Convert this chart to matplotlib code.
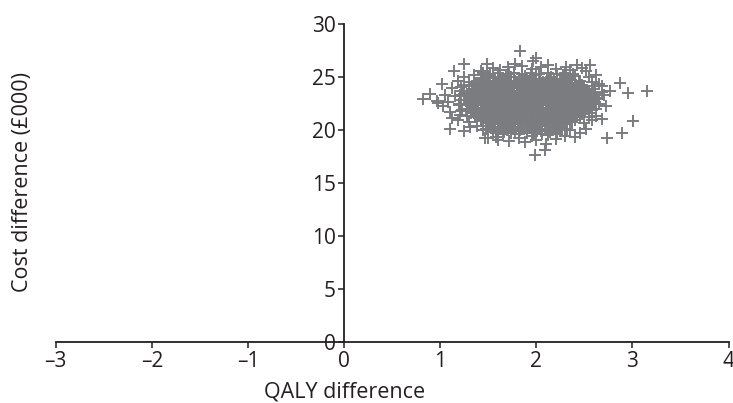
import matplotlib
matplotlib.use("Agg")
import matplotlib.pyplot as plt

plt.rcParams['font.family'] = ['Open Sans', 'DejaVu Sans']

# ---- data (QALY difference, cost difference £000) ----
outlier_points = [
    (1.83, 27.4), (1.97, 26.5), (2.00, 26.8), (1.25, 26.2), (1.14, 25.5),
    (1.49, 26.2), (1.42, 25.5), (1.02, 24.3), (0.89, 23.4), (0.82, 22.9),
    (0.97, 22.7), (1.03, 22.2), (1.12, 21.1), (1.10, 20.1), (1.31, 20.3),
    (1.47, 19.2), (1.99, 17.6), (2.09, 18.1), (2.73, 19.2), (2.89, 19.7),
    (3.01, 20.8), (3.15, 23.7), (2.95, 23.5), (2.87, 24.4), (2.77, 23.7),
    (2.68, 24.1), (2.56, 26.1), (2.42, 26.1), (2.31, 25.9),
]

fringe_points = [
    (1.55, 25.8), (1.70, 25.9), (1.85, 26.0), (2.05, 25.9), (2.20, 25.7),
    (1.62, 25.6), (1.95, 25.7), (2.35, 25.6), (2.48, 25.8), (1.78, 26.2),
    (2.12, 26.1), (1.45, 25.4), (2.52, 25.5),
    (1.25, 25.0), (1.35, 25.2), (1.50, 25.1), (1.60, 25.0), (1.72, 25.3),
    (1.88, 25.1), (2.00, 25.2), (2.15, 25.0), (2.28, 25.2), (2.40, 25.1),
    (2.55, 25.0), (2.62, 25.2), (1.42, 24.9), (1.98, 24.8), (2.25, 24.8),
    (1.18, 24.6), (1.30, 24.5), (1.45, 24.6), (1.58, 24.4), (1.68, 24.7),
    (1.80, 24.5), (1.92, 24.6), (2.05, 24.4), (2.18, 24.6), (2.32, 24.5),
    (2.45, 24.6), (2.58, 24.5), (2.65, 24.3), (1.38, 24.2), (1.75, 24.1),
    (2.10, 24.1), (2.40, 24.2),
    (1.12, 23.9), (1.22, 24.0), (1.33, 23.8), (1.50, 24.0), (1.62, 23.9),
    (1.85, 23.8), (1.95, 24.0), (2.02, 23.7), (2.22, 23.9), (2.35, 23.8),
    (2.50, 24.0), (2.60, 23.8), (2.68, 23.6), (1.55, 23.6), (1.70, 23.5),
    (2.15, 23.5), (2.45, 23.5),
    (1.05, 23.3), (1.15, 23.2), (1.25, 23.4), (1.40, 23.3), (1.52, 23.2),
    (1.65, 23.4), (1.78, 23.2), (1.90, 23.3), (2.00, 23.1), (2.08, 23.4),
    (2.28, 23.2), (2.40, 23.3), (2.55, 23.2), (2.62, 23.0), (2.70, 23.3),
    (1.32, 22.9), (1.60, 22.9), (1.85, 22.8), (2.20, 22.9), (2.48, 22.8),
    (0.98, 22.5), (1.08, 22.6), (1.20, 22.4), (1.30, 22.6), (1.45, 22.5),
    (1.58, 22.4), (1.72, 22.6), (1.82, 22.3), (1.95, 22.5), (2.05, 22.7),
    (2.15, 22.4), (2.30, 22.5), (2.42, 22.3), (2.52, 22.6), (2.65, 22.4),
    (2.72, 22.2), (1.38, 22.1), (1.65, 22.0), (1.90, 22.1), (2.25, 22.0),
    (2.58, 21.9),
    (1.10, 21.7), (1.22, 21.8), (1.35, 21.6), (1.48, 21.8), (1.55, 21.5),
    (1.70, 21.7), (1.80, 21.5), (1.98, 21.7), (2.10, 21.6), (2.20, 21.8),
    (2.35, 21.6), (2.45, 21.4), (2.55, 21.6), (2.62, 21.3), (1.28, 21.3),
    (1.60, 21.2), (1.88, 21.2), (2.02, 21.1), (2.30, 21.2),
    (1.18, 20.9), (1.30, 20.7), (1.42, 20.9), (1.50, 20.6), (1.62, 20.8),
    (1.75, 20.6), (1.85, 20.9), (1.95, 20.5), (2.08, 20.8), (2.18, 20.5),
    (2.28, 20.7), (2.40, 20.9), (2.50, 20.6), (2.58, 20.9), (2.68, 21.0),
    (1.38, 20.4), (1.68, 20.2), (2.00, 20.2), (2.25, 20.3),
    (1.25, 19.9), (1.45, 20.0), (1.55, 19.8), (1.65, 19.6), (1.78, 19.9),
    (1.90, 19.7), (2.05, 19.9), (2.12, 19.5), (2.22, 19.8), (2.35, 20.0),
    (2.45, 19.7), (1.58, 19.3), (1.82, 19.2), (1.95, 19.4), (2.30, 19.4),
    (2.52, 20.1),
    (1.60, 19.0), (1.72, 18.9), (1.88, 18.8), (2.00, 19.0), (2.10, 18.7),
    (2.20, 19.1), (2.40, 19.3), (1.50, 19.2),
]

core_points = [
    (1.45, 24.8), (1.52, 24.9), (1.60, 24.7), (1.67, 24.8), (1.74, 25.0),
    (1.82, 24.7), (1.89, 24.9), (1.96, 24.8), (2.04, 24.7), (2.11, 24.9),
    (2.18, 24.8), (2.26, 24.7), (2.33, 24.9),
    (1.36, 24.3), (1.43, 24.5), (1.51, 24.4), (1.57, 24.6), (1.64, 24.3),
    (1.71, 24.5), (1.77, 24.4), (1.84, 24.2), (1.90, 24.6), (1.97, 24.4),
    (2.03, 24.3), (2.11, 24.5), (2.17, 24.4), (2.24, 24.2), (2.30, 24.5),
    (2.37, 24.3), (2.44, 24.4),
    (1.33, 24.1), (1.40, 23.9), (1.47, 24.0), (1.54, 24.1), (1.61, 23.8),
    (1.68, 24.0), (1.74, 24.1), (1.81, 23.9), (1.88, 24.0), (1.94, 24.2),
    (2.01, 23.9), (2.08, 24.0), (2.14, 24.1), (2.21, 23.8), (2.28, 24.0),
    (2.34, 24.1), (2.41, 23.9), (2.48, 24.0),
    (1.30, 23.6), (1.37, 23.5), (1.44, 23.7), (1.50, 23.6), (1.57, 23.5),
    (1.64, 23.7), (1.71, 23.6), (1.77, 23.4), (1.84, 23.6), (1.91, 23.7),
    (1.98, 23.5), (2.04, 23.6), (2.11, 23.7), (2.18, 23.5), (2.25, 23.6),
    (2.31, 23.7), (2.38, 23.5), (2.45, 23.6), (2.52, 23.7),
    (1.28, 23.2), (1.35, 23.1), (1.42, 23.3), (1.49, 23.2), (1.56, 23.1),
    (1.62, 23.3), (1.69, 23.2), (1.76, 23.1), (1.83, 23.2), (1.89, 23.3),
    (1.96, 23.2), (2.03, 23.1), (2.10, 23.3), (2.16, 23.2), (2.23, 23.1),
    (2.30, 23.2), (2.37, 23.3), (2.43, 23.1), (2.50, 23.2), (2.57, 23.1),
    (1.27, 22.8), (1.34, 22.7), (1.41, 22.9), (1.48, 22.8), (1.55, 22.7),
    (1.61, 22.9), (1.68, 22.8), (1.75, 22.7), (1.82, 22.9), (1.88, 22.8),
    (1.95, 22.7), (2.02, 22.8), (2.09, 22.9), (2.15, 22.7), (2.22, 22.8),
    (2.29, 22.9), (2.36, 22.7), (2.42, 22.8), (2.49, 22.9), (2.56, 22.7),
    (1.30, 22.4), (1.37, 22.3), (1.44, 22.5), (1.51, 22.4), (1.58, 22.3),
    (1.64, 22.5), (1.71, 22.4), (1.78, 22.3), (1.85, 22.4), (1.91, 22.5),
    (1.98, 22.4), (2.05, 22.3), (2.12, 22.5), (2.18, 22.4), (2.25, 22.3),
    (2.32, 22.4), (2.39, 22.5), (2.45, 22.3), (2.52, 22.4), (2.59, 22.5),
    (1.28, 22.0), (1.35, 21.9), (1.42, 22.1), (1.49, 22.0), (1.56, 21.9),
    (1.62, 22.1), (1.69, 22.0), (1.76, 21.9), (1.83, 22.0), (1.89, 22.1),
    (1.96, 22.0), (2.03, 21.9), (2.10, 22.1), (2.16, 22.0), (2.23, 21.9),
    (2.30, 22.0), (2.37, 22.1), (2.43, 21.9), (2.50, 22.0), (2.56, 22.1),
    (1.32, 21.6), (1.39, 21.5), (1.46, 21.7), (1.53, 21.6), (1.60, 21.5),
    (1.66, 21.7), (1.73, 21.6), (1.80, 21.5), (1.87, 21.6), (1.93, 21.7),
    (2.00, 21.6), (2.07, 21.5), (2.14, 21.7), (2.20, 21.6), (2.27, 21.5),
    (2.34, 21.6), (2.41, 21.7), (2.48, 21.5),
    (1.36, 21.2), (1.43, 21.1), (1.50, 21.3), (1.57, 21.2), (1.63, 21.1),
    (1.70, 21.3), (1.77, 21.2), (1.84, 21.1), (1.90, 21.2), (1.97, 21.3),
    (2.04, 21.2), (2.11, 21.1), (2.17, 21.3), (2.24, 21.2), (2.31, 21.1),
    (2.38, 21.2), (2.45, 21.3),
    (1.42, 20.8), (1.49, 20.7), (1.56, 20.9), (1.63, 20.8), (1.70, 20.7),
    (1.76, 20.9), (1.83, 20.8), (1.90, 20.7), (1.97, 20.8), (2.03, 20.9),
    (2.10, 20.8), (2.17, 20.7), (2.24, 20.9), (2.30, 20.8), (2.37, 20.7),
    (1.50, 20.4), (1.57, 20.3), (1.64, 20.5), (1.71, 20.4), (1.78, 20.3),
    (1.85, 20.5), (1.92, 20.4), (1.99, 20.3), (2.06, 20.4), (2.13, 20.5),
    (2.20, 20.4), (2.27, 20.3),
]

inner_points = [
    (1.49, 24.6), (1.56, 24.5), (1.63, 24.7), (1.70, 24.6), (1.78, 24.6),
    (1.86, 24.5), (1.93, 24.7), (2.00, 24.6), (2.07, 24.5), (2.14, 24.7),
    (2.21, 24.6), (2.28, 24.6), (2.36, 24.7),
    (1.38, 24.2), (1.45, 24.1), (1.52, 24.2), (1.59, 24.2), (1.66, 24.1),
    (1.73, 24.3), (1.80, 24.2), (1.87, 24.1), (1.93, 24.3), (2.00, 24.2),
    (2.06, 24.1), (2.13, 24.3), (2.20, 24.2), (2.27, 24.1), (2.33, 24.3),
    (2.40, 24.2), (2.47, 24.2),
    (1.34, 23.8), (1.41, 23.7), (1.48, 23.8), (1.55, 23.9), (1.62, 23.7),
    (1.69, 23.8), (1.76, 23.9), (1.82, 23.7), (1.89, 23.8), (1.96, 23.9),
    (2.02, 23.8), (2.09, 23.7), (2.16, 23.9), (2.23, 23.8), (2.29, 23.7),
    (2.36, 23.8), (2.43, 23.9), (2.50, 23.8),
    (1.31, 23.4), (1.38, 23.3), (1.45, 23.5), (1.52, 23.4), (1.59, 23.3),
    (1.66, 23.5), (1.73, 23.4), (1.80, 23.3), (1.86, 23.4), (1.93, 23.5),
    (2.00, 23.4), (2.07, 23.3), (2.13, 23.5), (2.20, 23.4), (2.27, 23.3),
    (2.34, 23.4), (2.40, 23.5), (2.47, 23.4), (2.54, 23.3),
    (1.30, 23.0), (1.37, 22.9), (1.44, 23.0), (1.51, 23.1), (1.58, 22.9),
    (1.65, 23.0), (1.72, 23.1), (1.79, 22.9), (1.86, 23.0), (1.92, 23.1),
    (1.99, 23.0), (2.06, 22.9), (2.13, 23.0), (2.19, 23.1), (2.26, 22.9),
    (2.33, 23.0), (2.40, 23.1), (2.46, 22.9), (2.53, 23.0), (2.60, 23.1),
    (1.31, 22.6), (1.38, 22.5), (1.45, 22.7), (1.52, 22.6), (1.59, 22.5),
    (1.66, 22.7), (1.73, 22.6), (1.80, 22.5), (1.86, 22.6), (1.93, 22.7),
    (2.00, 22.6), (2.07, 22.5), (2.13, 22.7), (2.20, 22.6), (2.27, 22.5),
    (2.34, 22.6), (2.40, 22.7), (2.47, 22.5), (2.54, 22.6), (2.61, 22.6),
    (1.32, 22.2), (1.39, 22.1), (1.46, 22.3), (1.53, 22.2), (1.60, 22.1),
    (1.67, 22.3), (1.74, 22.2), (1.80, 22.1), (1.87, 22.2), (1.94, 22.3),
    (2.01, 22.2), (2.07, 22.1), (2.14, 22.3), (2.21, 22.2), (2.28, 22.1),
    (2.35, 22.2), (2.41, 22.3), (2.48, 22.1), (2.55, 22.2),
    (1.35, 21.8), (1.42, 21.7), (1.49, 21.9), (1.56, 21.8), (1.63, 21.7),
    (1.70, 21.9), (1.77, 21.8), (1.84, 21.7), (1.90, 21.8), (1.97, 21.9),
    (2.04, 21.8), (2.10, 21.7), (2.17, 21.9), (2.24, 21.8), (2.31, 21.7),
    (2.38, 21.8), (2.44, 21.9), (2.51, 21.8),
    (1.39, 21.4), (1.46, 21.3), (1.53, 21.5), (1.60, 21.4), (1.67, 21.3),
    (1.74, 21.5), (1.81, 21.4), (1.87, 21.3), (1.94, 21.4), (2.01, 21.5),
    (2.08, 21.4), (2.14, 21.3), (2.21, 21.5), (2.28, 21.4), (2.35, 21.3),
    (2.42, 21.4),
    (1.45, 21.0), (1.52, 20.9), (1.59, 21.1), (1.66, 21.0), (1.73, 20.9),
    (1.80, 21.1), (1.87, 21.0), (1.93, 20.9), (2.00, 21.0), (2.07, 21.1),
    (2.14, 21.0), (2.20, 20.9), (2.27, 21.1), (2.34, 21.0), (2.40, 20.9),
    (1.53, 20.6), (1.60, 20.5), (1.67, 20.7), (1.74, 20.6), (1.81, 20.5),
    (1.88, 20.7), (1.95, 20.6), (2.02, 20.5), (2.09, 20.6), (2.16, 20.7),
    (2.23, 20.6), (2.30, 20.5),
]

edge_fill_points = [
    (1.48, 20.1), (1.55, 20.0), (1.62, 20.2), (1.69, 20.0), (1.76, 20.1),
    (1.83, 20.0), (1.90, 20.2), (1.97, 20.0), (2.04, 20.1), (2.11, 20.0),
    (2.18, 20.2), (2.25, 20.0), (2.32, 20.1),
    (1.58, 19.7), (1.66, 19.8), (1.74, 19.7), (1.82, 19.6), (1.90, 19.8),
    (1.98, 19.7), (2.06, 19.6), (2.14, 19.8), (2.22, 19.6),
    (1.21, 21.4), (1.23, 21.9), (1.20, 22.3), (1.22, 22.8), (1.21, 23.3),
    (1.23, 23.7), (1.25, 24.2),
    (1.52, 25.3), (1.60, 25.4), (1.68, 25.2), (1.77, 25.4), (1.85, 25.3),
    (1.94, 25.4), (2.03, 25.3), (2.12, 25.4), (2.21, 25.3), (2.30, 25.4),
    (2.38, 25.3),
    (2.62, 22.0), (2.63, 22.9), (2.61, 23.5), (2.58, 24.1), (2.55, 21.2),
]

x_ticks = [-3, -2, -1, 0, 1, 2, 3, 4]
y_ticks = [0, 5, 10, 15, 20, 25, 30]
x_label = "QALY difference"
y_label = "Cost difference (£000)"

all_points = (core_points + inner_points + edge_fill_points + fringe_points
              + outlier_points)
qaly_diff = [p[0] for p in all_points]
cost_diff = [p[1] for p in all_points]

ink = "#231f20"
marker_col = "#7b7c7f"
tick_size = 15
label_size = 15.5

fig = plt.figure(figsize=(7.33, 4.03), dpi=100)
ax = fig.add_axes([0.076, 0.152, 0.918, 0.789])

ax.plot(qaly_diff, cost_diff, linestyle="none", marker="+", markersize=8.5,
        markeredgewidth=1.4, color=marker_col, zorder=3)

ax.set_xlim(-3, 4)
ax.set_ylim(0, 30)
ax.set_xticks(x_ticks)
ax.set_yticks(y_ticks)
ax.set_xticklabels([str(t).replace("-", "\u2013") for t in x_ticks])
ax.set_yticklabels([str(t) for t in y_ticks])

ax.spines["left"].set_position(("data", 0))
ax.spines["bottom"].set_position(("data", 0))
ax.spines["top"].set_visible(False)
ax.spines["right"].set_visible(False)
for s in ("left", "bottom"):
    ax.spines[s].set_color(ink)
    ax.spines[s].set_linewidth(1.3)
    ax.spines[s].set_zorder(4)

ax.tick_params(axis="both", direction="out", length=4, width=1.1,
               color=ink, labelcolor=ink, labelsize=tick_size)
ax.tick_params(axis="x", pad=3)
ax.tick_params(axis="y", pad=2)

fig.text(345 / 733, 1 - 392 / 403, x_label, ha="center", va="center",
         fontsize=label_size, color=ink)
fig.text(23 / 733, 1 - 182 / 403, y_label, ha="center", va="center",
         rotation=90, fontsize=label_size, color=ink)

fig.savefig("out.png", dpi=100)
